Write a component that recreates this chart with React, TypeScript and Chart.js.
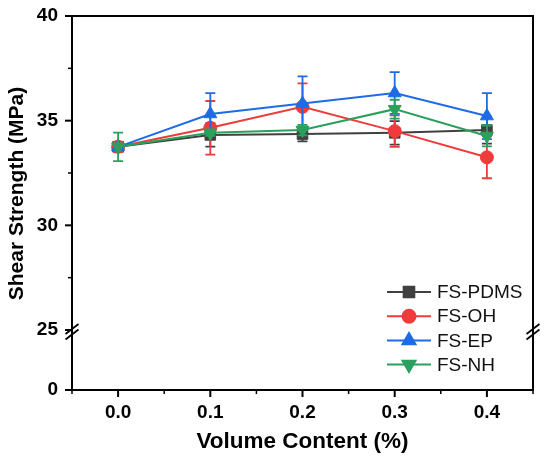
import React, { useRef, useEffect } from 'react';
import { Chart, registerables } from 'chart.js';
import { drawPoint } from 'chart.js/helpers';

Chart.register(...registerables);

const FONT = '"Liberation Sans", Arial, sans-serif';
Chart.defaults.font.family = FONT;

// volume content (%)
const volume = [0, 0.1, 0.2, 0.3, 0.4];

const seriesNames = ['FS-PDMS', 'FS-OH', 'FS-EP', 'FS-NH'];
const seriesColors = ['#404040', '#EF3B3B', '#1F6BE6', '#2BA05C'];
const seriesStyles = ['rect', 'circle', 'triangle', 'triangle'];
const seriesRotation = [0, 0, 0, 180];
const seriesRadius = [7.5, 6.5, 7.5, 7.5];

// shear strength (MPa) and error bars
const pdms = [33.75, 34.32, 34.36, 34.42, 34.55];
const pdmsErr = [0.2, 0.56, 0.35, 0.56, 0.65];
const oh = [33.75, 34.66, 35.66, 34.5, 33.25];
const ohErr = [0.25, 1.28, 1.12, 0.75, 1.0];
const ep = [33.75, 35.32, 35.82, 36.32, 35.22];
const epErr = [0.15, 1.0, 1.3, 1.0, 1.1];
const nh = [33.75, 34.42, 34.55, 35.55, 34.27];
const nhErr = [0.68, 0.15, 0.25, 0.45, 0.5];

const values = [pdms, oh, ep, nh];
const errors = [pdmsErr, ohErr, epErr, nhErr];

// tick labels
const xTickLabels = ['0.0', '0.1', '0.2', '0.3', '0.4'];
const yUpperTickLabels = ['25', '30', '35', '40'];
const yLowerTickLabels = ['0'];

const isMajor = (v: number, step: number) => Math.abs(v / step - Math.round(v / step)) < 1e-6;

const decorPlugin = {
  id: 'decor',
  beforeDatasetDraw(chart: any, args: any) {
    const i = args.index;
    const { ctx } = chart;
    const xs = chart.scales.x;
    const ys = chart.scales.y;
    ctx.save();
    ctx.strokeStyle = seriesColors[i];
    ctx.lineWidth = 1.8;
    values[i].forEach((v, j) => {
      const px = xs.getPixelForValue(volume[j]);
      const top = ys.getPixelForValue(v + errors[i][j]);
      const bot = ys.getPixelForValue(v - errors[i][j]);
      ctx.beginPath();
      ctx.moveTo(px, top);
      ctx.lineTo(px, bot);
      ctx.moveTo(px - 5, top);
      ctx.lineTo(px + 5, top);
      ctx.moveTo(px - 5, bot);
      ctx.lineTo(px + 5, bot);
      ctx.stroke();
    });
    ctx.restore();
  },
  afterDraw(chart: any) {
    const { ctx, chartArea } = chart;
    const { left, right, top, bottom } = chartArea;
    const xs = chart.scales.x;
    const ys = chart.scales.y;
    const ys2 = chart.scales.y2;
    ctx.save();
    ctx.strokeStyle = '#000';

    // outward ticks
    xs.ticks.forEach((t: any) => {
      const px = xs.getPixelForValue(t.value);
      const major = t.label !== '';
      ctx.lineWidth = major ? 2 : 1.5;
      ctx.beginPath();
      ctx.moveTo(px, bottom);
      ctx.lineTo(px, bottom + (major ? 7 : 4));
      ctx.stroke();
    });
    [ys, ys2].forEach((s: any) => {
      s.ticks.forEach((t: any) => {
        if (s === ys2 && t.value === s.max) return;
        const py = s.getPixelForValue(t.value);
        const major = t.label !== '';
        ctx.lineWidth = major ? 2 : 1.5;
        ctx.beginPath();
        ctx.moveTo(left, py);
        ctx.lineTo(left - (major ? 7 : 4), py);
        ctx.stroke();
      });
    });

    // top and right frame
    ctx.lineWidth = 2;
    ctx.beginPath();
    ctx.moveTo(left - 1, top);
    ctx.lineTo(right, top);
    ctx.lineTo(right, bottom + 1);
    ctx.stroke();

    // axis break marks
    const yb = ys.bottom;
    ctx.lineWidth = 1.8;
    [left, right].forEach((x0) => {
      [-1, 4.5].forEach((dy) => {
        ctx.beginPath();
        ctx.moveTo(x0 - 6.5, yb + dy + 5);
        ctx.lineTo(x0 + 6.5, yb + dy - 5);
        ctx.stroke();
      });
    });

    // y title spanning the broken axis
    ctx.fillStyle = '#000';
    ctx.font = `bold 21px ${FONT}`;
    ctx.textAlign = 'center';
    ctx.textBaseline = 'middle';
    ctx.translate(17, 193.5);
    ctx.rotate(-Math.PI / 2);
    ctx.fillText('Shear Strength (MPa)', 0, 0);
    ctx.setTransform(1, 0, 0, 1, 0, 0);
    ctx.restore();

    // legend
    ctx.save();
    const lx = right - 146;
    const ly = top + 276;
    chart.data.datasets.forEach((ds: any, i: number) => {
      const y = ly + i * 24.2;
      ctx.strokeStyle = ds.borderColor;
      ctx.fillStyle = ds.borderColor;
      ctx.lineWidth = 2;
      ctx.beginPath();
      ctx.moveTo(lx, y);
      ctx.lineTo(lx + 44, y);
      ctx.stroke();
      drawPoint(ctx, {
        pointStyle: seriesStyles[i],
        rotation: seriesRotation[i],
        radius: seriesRadius[i],
        borderWidth: 1,
      } as any, lx + 22, y);
      ctx.fillStyle = '#111';
      ctx.font = `19px ${FONT}`;
      ctx.textAlign = 'left';
      ctx.textBaseline = 'middle';
      ctx.fillText(ds.label, lx + 50, y + 1);
    });
    ctx.restore();
  },
};

const App: React.FC = () => {
  const canvasRef = useRef<HTMLCanvasElement>(null);
  const chartRef = useRef<Chart | null>(null);

  useEffect(() => {
    if (!canvasRef.current) return;
    const ctx = canvasRef.current.getContext('2d');
    if (!ctx) return;
    if (chartRef.current) chartRef.current.destroy();

    const datasets = seriesNames.map((name, i) => ({
      label: name,
      data: volume.map((x, j) => ({ x, y: values[i][j] })),
      yAxisID: 'y',
      borderColor: seriesColors[i],
      backgroundColor: seriesColors[i],
      pointBackgroundColor: seriesColors[i],
      pointBorderColor: seriesColors[i],
      pointStyle: seriesStyles[i],
      pointRotation: seriesRotation[i],
      pointRadius: seriesRadius[i],
      pointBorderWidth: 1,
      borderWidth: 2,
      tension: 0,
      order: seriesNames.length - i,
    }));

    const axisText = { color: '#000', font: { size: 19, weight: 'bold' as const } };
    // invisible tick marks give the label offset; visible ticks are drawn by the plugin
    const hiddenGrid = (len: number) => ({
      display: true,
      drawOnChartArea: false,
      drawTicks: true,
      tickLength: len,
      tickColor: 'rgba(0,0,0,0)',
    });

    chartRef.current = new Chart(ctx, {
      type: 'line',
      data: { datasets },
      options: {
        animation: false,
        responsive: false,
        layout: { padding: { top: 16, right: 17, left: 0, bottom: 0 } },
        plugins: { legend: { display: false }, tooltip: { enabled: false } },
        scales: {
          x: {
            type: 'linear',
            min: -0.05,
            max: 0.45,
            afterFit: (s: any) => { s.height = 72; },
            grid: hiddenGrid(11),
            border: { display: true, color: '#000', width: 2 },
            ticks: {
              ...axisText,
              stepSize: 0.05,
              autoSkip: false,
              maxRotation: 0,
              padding: 0,
              callback: (v: any) => {
                const s = Number(v).toFixed(1);
                return isMajor(Number(v), 0.1) && xTickLabels.includes(s) ? s : '';
              },
            },
            title: {
              display: true,
              text: 'Volume Content (%)',
              color: '#000',
              font: { size: 22.5, weight: 'bold' },
              padding: { top: 0, bottom: 7 },
            },
          },
          y: {
            type: 'linear',
            stack: 'shear',
            stackWeight: 314,
            weight: 1,
            min: 25,
            max: 40,
            afterFit: (s: any) => { s.width = 72; },
            grid: hiddenGrid(14),
            border: { display: true, color: '#000', width: 2 },
            ticks: {
              ...axisText,
              stepSize: 2.5,
              padding: 0,
              callback: (v: any) => {
                const s = String(v);
                return isMajor(Number(v), 5) && yUpperTickLabels.includes(s) ? s : '';
              },
            },
          },
          y2: {
            type: 'linear',
            stack: 'shear',
            stackWeight: 60,
            weight: 0,
            min: 0,
            max: 5,
            afterFit: (s: any) => { s.width = 72; },
            grid: hiddenGrid(14),
            border: { display: true, color: '#000', width: 2 },
            ticks: {
              ...axisText,
              stepSize: 2.5,
              padding: 0,
              callback: (v: any) => {
                const s = String(v);
                return yLowerTickLabels.includes(s) ? s : '';
              },
            },
          },
        },
      } as any,
      plugins: [decorPlugin],
    });

    return () => {
      if (chartRef.current) {
        chartRef.current.destroy();
        chartRef.current = null;
      }
    };
  }, []);

  return (
    <div style={{ position: 'fixed', left: 0, top: 0, width: 550, height: 462, background: '#fff' }}>
      <canvas ref={canvasRef} width={550} height={462} />
    </div>
  );
};

export default App;
